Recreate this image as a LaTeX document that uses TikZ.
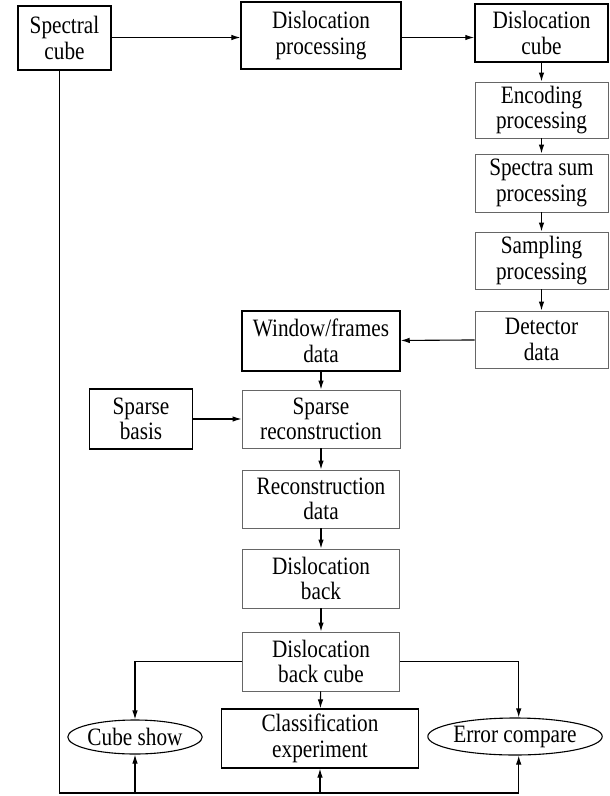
\documentclass[tikz,border=0pt]{standalone}
\usepackage{fontspec}
\setmainfont{Liberation Serif}[FakeStretch=0.85]
\usetikzlibrary{arrows.meta,shapes.geometric}
\begin{document}
\begin{tikzpicture}[x=1pt,y=-1pt,
  every node/.style={font=\fontsize{25}{25.5}\selectfont, align=center, inner sep=0pt},
  thickbox/.style={draw=black, line width=1.5pt, rectangle},
  thinbox/.style={draw=black!60, line width=0.9pt, rectangle},
  oval/.style={draw=black, line width=1.1pt, ellipse},
  conn/.style={draw=black, line width=1.1pt},
  arr/.style={conn, -{Latex[length=9pt,width=5.5pt]}}]
\useasboundingbox (0,0) rectangle (610,796);
\fill[white] (0,0) rectangle (610,796);
% nodes
\node[thickbox, minimum width=93pt, minimum height=64pt] (sc) at (64.5,38) {Spectral\\cube};
\node[thickbox, line width=1.2pt, minimum width=160pt, minimum height=67pt] (dp) at (321,35.5) {Dislocation\\processing};
\node[thickbox, minimum width=133pt, minimum height=58pt] (dc) at (541.5,33) {Dislocation\\cube};
\node[thinbox, minimum width=133pt, minimum height=56pt] (ep) at (541.5,110) {Encoding\\processing};
\node[thinbox, minimum width=133pt, minimum height=58pt] (ss) at (541.5,183) {Spectra sum\\processing};
\node[thinbox, minimum width=133pt, minimum height=57pt] (sp) at (541.5,260.5) {Sampling\\processing};
\node[thinbox, minimum width=133pt, minimum height=57pt] (dd) at (541.5,339.5) {Detector\\data};
\node[thickbox, minimum width=158pt, minimum height=60pt] (wf) at (321,341) {Window/frames\\data};
\node[thickbox, minimum width=103pt, minimum height=60pt] (sb) at (141,419) {Sparse\\basis};
\node[thinbox, minimum width=158pt, minimum height=58pt] (sr) at (321,419) {Sparse\\reconstruction};
\node[thinbox, minimum width=157pt, minimum height=58pt] (rd) at (321,499) {Reconstruction\\data};
\node[thinbox, minimum width=157pt, minimum height=59pt] (db) at (321,578.5) {Dislocation\\back};
\node[thinbox, minimum width=157pt, minimum height=59pt] (dbc) at (321,661.5) {Dislocation\\back cube};
\node[thickbox, line width=1.2pt, minimum width=197pt, minimum height=59pt] (ce) at (320,738.5) {Classification\\experiment};
\node[oval, minimum width=126pt, minimum height=34pt] (cs) at (135,737) {Cube show};
\node[oval, minimum width=149pt, minimum height=37pt] (ec) at (515,736.5) {Error compare};
% coordinates
\coordinate (bl) at (59.3,793);
\coordinate (br) at (518.7,793);
% connectors
\draw[arr] (sc.east |- 0,37.5) -- (dp.west |- 0,37.5);
\draw[arr] (dp.east |- 0,37.5) -- (dc.west |- 0,37.5);
\draw[arr] (dc) -- (ep);
\draw[arr] (ep) -- (ss);
\draw[arr] (ss) -- (sp);
\draw[arr] (sp) -- (dd);
\draw[arr] (dd) -- (wf);
\draw[arr] (wf) -- (sr);
\draw[arr] (sb) -- (sr);
\draw[arr] (sr) -- (rd);
\draw[arr] (rd) -- (db);
\draw[arr] (db) -- (dbc);
\draw[arr] (dbc) -- (ce);
\draw[arr] (dbc.west) -| (cs.north);
\draw[arr] (dbc.east) -| (br |- ec.north);
\draw[conn] (sc.south -| bl) -- (bl) -- (br);
\draw[arr] (cs.south |- bl) -- (cs.south);
\draw[arr] (ce.south |- bl) -- (ce.south);
\draw[arr] (br) -- (br |- ec.south);
\end{tikzpicture}
\end{document}
